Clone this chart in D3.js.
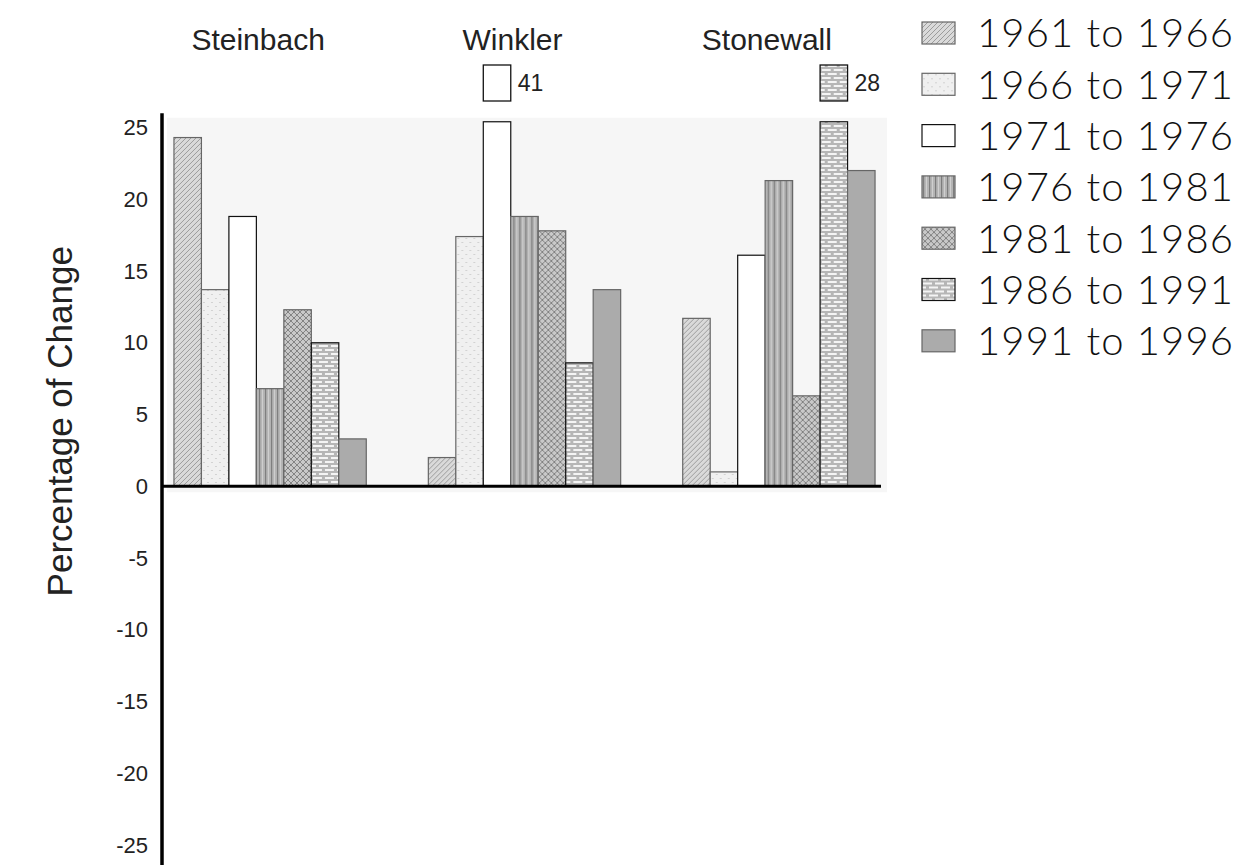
<!DOCTYPE html>
<html>
<head>
<meta charset="utf-8">
<script src="https://cdn.jsdelivr.net/npm/d3@7"></script>
<style>
  html, body { margin: 0; padding: 0; background: #ffffff; }
  svg { display: block; }
</style>
</head>
<body>
<div id="chart"></div>
<script>
// ---------------- DATA ----------------
const groups = ["Steinbach", "Winkler", "Stonewall"];
const periods = ["1961 to 1966", "1966 to 1971", "1971 to 1976", "1976 to 1981",
                 "1981 to 1986", "1986 to 1991", "1991 to 1996"];
const steinbachValues = [24.3, 13.7, 18.8, 6.8, 12.3, 10.0, 3.3];
const winklerValues   = [2.0, 17.4, 41, 18.8, 17.8, 8.6, 13.7];
const stonewallValues = [11.7, 1.0, 16.1, 21.3, 6.3, 28, 22.0];
const yTickValues = [25, 20, 15, 10, 5, 0, -5, -10, -15, -20, -25];
const yAxisTitle = "Percentage of Change";

const seriesByGroup = [steinbachValues, winklerValues, stonewallValues];
const table = groups.map((g, gi) => ({
  group: g,
  values: periods.map((p, pi) => ({ group: g, period: p, pi, value: seriesByGroup[gi][pi] }))
}));

// ---------------- LAYOUT ----------------
const W = 1251, H = 865;
const svg = d3.select("#chart").append("svg")
  .attr("width", W).attr("height", H)
  .attr("viewBox", `0 0 ${W} ${H}`);

svg.append("rect").attr("width", W).attr("height", H).attr("fill", "#ffffff");

const y = d3.scaleLinear().domain([-25, 25]).range([845, 127.5]);
const yClip = 25.4; // top of drawing area; taller bars are cut here

const x0 = d3.scaleBand().domain(groups).range([162, 887])
  .paddingInner(0.244).paddingOuter(0.047);
const x1 = d3.scaleBand().domain(periods).range([0, x0.bandwidth()]).padding(0);

// ---------------- PATTERNS ----------------
const defs = svg.append("defs");
function pat(id, w, h) {
  return defs.append("pattern").attr("id", id).attr("patternUnits", "userSpaceOnUse")
    .attr("width", w).attr("height", h);
}
// 1961-66 diagonal hatch
let p = pat("p0", 5, 5);
p.append("rect").attr("width", 5).attr("height", 5).attr("fill", "#dadada");
p.append("path").attr("d", "M0,5 L5,0 M-1,1 L1,-1 M4,6 L6,4").attr("stroke", "#9c9c9c").attr("stroke-width", 1);
// 1966-71 light speckle
p = pat("p1", 8, 8);
p.append("rect").attr("width", 8).attr("height", 8).attr("fill", "#f0f0f0");
p.append("rect").attr("x", 1).attr("y", 2).attr("width", 2).attr("height", 1).attr("fill", "#d2d2d2");
p.append("rect").attr("x", 5).attr("y", 6).attr("width", 2).attr("height", 1).attr("fill", "#d2d2d2");
// 1971-76 white
p = pat("p2", 4, 4);
p.append("rect").attr("width", 4).attr("height", 4).attr("fill", "#ffffff");
// 1976-81 vertical stripes
p = pat("p3", 6, 6);
p.append("rect").attr("width", 6).attr("height", 6).attr("fill", "#b4b4b4");
p.append("rect").attr("x", 1).attr("width", 1.2).attr("height", 6).attr("fill", "#7d7d7d");
p.append("rect").attr("x", 4).attr("width", 1).attr("height", 6).attr("fill", "#cfcfcf");
// 1981-86 crosshatch
p = pat("p4", 6, 6);
p.append("rect").attr("width", 6).attr("height", 6).attr("fill", "#c9c9c9");
p.append("path").attr("d", "M0,0 L6,6 M0,6 L6,0").attr("stroke", "#7a7a7a").attr("stroke-width", 0.9);
// 1986-91 brick
p = pat("p5", 12, 8);
p.append("rect").attr("width", 12).attr("height", 8).attr("fill", "#b6b6b6");
p.append("rect").attr("x", 1).attr("y", 1).attr("width", 9).attr("height", 2).attr("fill", "#f4f4f4");
p.append("rect").attr("x", 7).attr("y", 5).attr("width", 9).attr("height", 2).attr("fill", "#f4f4f4");
p.append("rect").attr("x", -5).attr("y", 5).attr("width", 9).attr("height", 2).attr("fill", "#f4f4f4");
// 1991-96 solid gray
p = pat("p6", 4, 4);
p.append("rect").attr("width", 4).attr("height", 4).attr("fill", "#ababab");

const strokeFor = i => (i === 2 || i === 5) ? "#111" : "#666";

// ---------------- PLOT BACKGROUND ----------------
svg.append("rect")
  .attr("x", x0.range()[0] + 5).attr("y", y(yClip) - 4)
  .attr("width", x0.range()[1] - x0.range()[0] - 5).attr("height", y(0) - y(yClip) + 10)
  .attr("fill", "#f6f6f6");

// ---------------- BARS ----------------
const gGroups = svg.append("g").selectAll("g").data(table).join("g")
  .attr("transform", d => `translate(${x0(d.group)},0)`);

gGroups.selectAll("rect.bar").data(d => d.values).join("rect")
  .attr("class", "bar")
  .attr("x", d => x1(d.period))
  .attr("width", x1.bandwidth())
  .attr("y", d => y(Math.min(d.value, yClip)))
  .attr("height", d => y(0) - y(Math.min(d.value, yClip)))
  .attr("fill", d => `url(#p${d.pi})`)
  .attr("stroke", d => strokeFor(d.pi))
  .attr("stroke-width", 1.2);

// overflow markers
const over = gGroups.selectAll("g.over").data(d => d.values.filter(v => v.value > yClip)).join("g")
  .attr("class", "over");
over.append("rect")
  .attr("x", d => x1(d.period))
  .attr("width", x1.bandwidth())
  .attr("y", 65).attr("height", 36)
  .attr("fill", d => `url(#p${d.pi})`)
  .attr("stroke", "#111").attr("stroke-width", 1.3);
over.append("text")
  .attr("x", d => x1(d.period) + x1.bandwidth() + 7)
  .attr("y", 83).attr("dy", "0.35em")
  .attr("font-family", "Liberation Sans, Arial, sans-serif")
  .attr("font-size", 23).attr("fill", "#222")
  .text(d => d.value);

// group labels
svg.append("g").selectAll("text").data(groups).join("text")
  .attr("x", d => x0(d) + x0.bandwidth() / 2 - 12)
  .attr("y", 50)
  .attr("text-anchor", "middle")
  .attr("font-family", "Liberation Sans, Arial, sans-serif")
  .attr("font-size", 30).attr("fill", "#222")
  .text(d => d);

// ---------------- AXES ----------------
svg.append("line")
  .attr("x1", x0.range()[0]).attr("x2", x0.range()[0])
  .attr("y1", y(26)).attr("y2", H)
  .attr("stroke", "#000").attr("stroke-width", 3.5);

svg.append("line")
  .attr("x1", x0.range()[0]).attr("x2", x0.range()[1] - 6)
  .attr("y1", y(0)).attr("y2", y(0))
  .attr("stroke", "#000").attr("stroke-width", 3);

const yAxis = d3.axisLeft(y).tickValues(yTickValues).tickSize(0).tickPadding(14)
  .tickFormat(d => String(d));
const gy = svg.append("g").attr("transform", `translate(${x0.range()[0]},0)`).call(yAxis);
gy.select(".domain").remove();
gy.selectAll("text")
  .attr("font-family", "Liberation Sans, Arial, sans-serif")
  .attr("font-size", 22).attr("fill", "#222");

svg.append("text")
  .attr("transform", `translate(72,${(y(25) + y(-25)) / 2 - 65}) rotate(-90)`)
  .attr("text-anchor", "middle")
  .attr("font-family", "Liberation Sans, Arial, sans-serif")
  .attr("font-size", 35).attr("fill", "#222")
  .text(yAxisTitle);

// ---------------- LEGEND ----------------
const legend = svg.append("g").selectAll("g").data(periods).join("g")
  .attr("transform", (d, i) => `translate(922,${33 + i * 51.3})`);
legend.append("rect")
  .attr("x", 0).attr("y", -11).attr("width", 33).attr("height", 22)
  .attr("fill", (d, i) => `url(#p${i})`)
  .attr("stroke", (d, i) => strokeFor(i)).attr("stroke-width", 1.2);
legend.append("text")
  .attr("x", 55).attr("y", 0).attr("dy", "0.36em")
  .attr("font-family", "Lato, 'Open Sans', sans-serif")
  .attr("font-weight", 300)
  .attr("font-size", 40).attr("fill", "#111")
  .attr("textLength", 256).attr("lengthAdjust", "spacing")
  .text(d => d);
</script>
</body>
</html>
